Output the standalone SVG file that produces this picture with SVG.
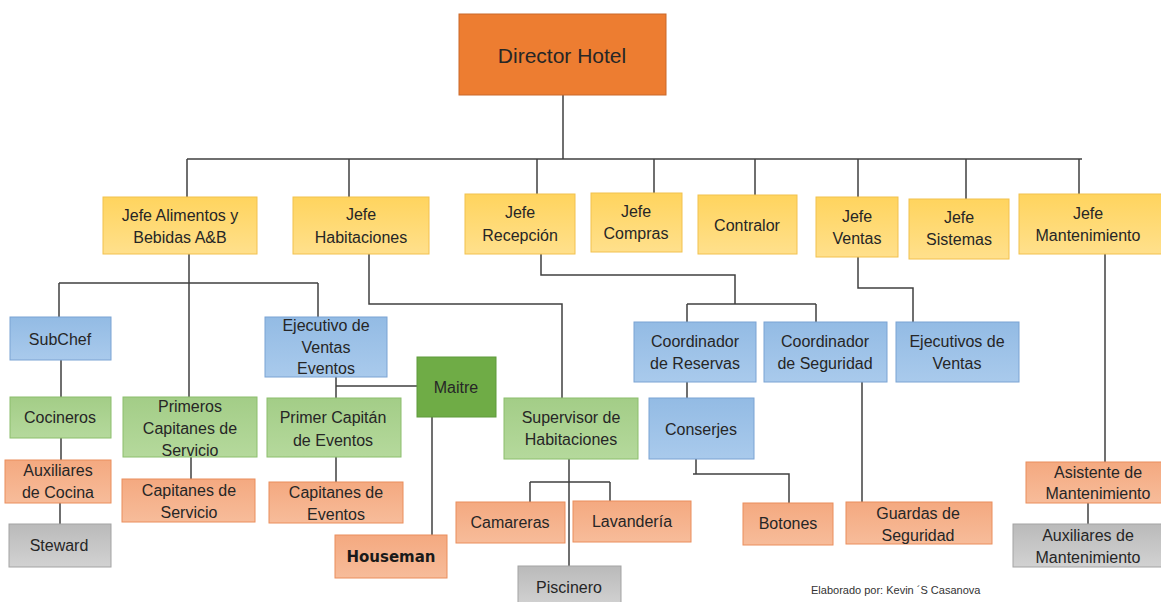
<svg xmlns="http://www.w3.org/2000/svg" width="1161" height="602" viewBox="0 0 1161 602">
<defs>
<linearGradient id="gY" x1="0" y1="0" x2="0" y2="1"><stop offset="0" stop-color="#FFD45E"/><stop offset="1" stop-color="#FFE08C"/></linearGradient>
<linearGradient id="gB" x1="0" y1="0" x2="0" y2="1"><stop offset="0" stop-color="#93BBE4"/><stop offset="1" stop-color="#A9CAEC"/></linearGradient>
<linearGradient id="gG" x1="0" y1="0" x2="0" y2="1"><stop offset="0" stop-color="#A3CD87"/><stop offset="1" stop-color="#B5D99C"/></linearGradient>
<linearGradient id="gS" x1="0" y1="0" x2="0" y2="1"><stop offset="0" stop-color="#F4A980"/><stop offset="1" stop-color="#F7BC9A"/></linearGradient>
<linearGradient id="gR" x1="0" y1="0" x2="0" y2="1"><stop offset="0" stop-color="#BABABA"/><stop offset="1" stop-color="#D2D2D2"/></linearGradient>
<style>
.t{font-family:"Liberation Sans",Arial,sans-serif;font-size:16px;fill:#262626;text-anchor:middle;dominant-baseline:central}
.y{fill:url(#gY);stroke:#F2C14E;stroke-width:1}
.b{fill:url(#gB);stroke:#7BA3D3;stroke-width:1}
.g{fill:url(#gG);stroke:#8CBE6C;stroke-width:1}
.s{fill:url(#gS);stroke:#EA8E5C;stroke-width:1}
.r{fill:url(#gR);stroke:#A3A3A3;stroke-width:1}
.c{fill:none;stroke:#404040;stroke-width:1.5}
</style>
</defs>
<rect width="1161" height="602" fill="#FFFFFF"/>
<g id="connectors" class="c">
<path d="M563,95 V159 M187,159 H1082 M187,159 V197 M349,159 V197 M537,159 V194 M654,159 V193 M755,159 V195 M858,159 V197 M966,159 V199 M1079,159 V194"/>
<path d="M189,254 V397 M59,283 H318 M59,283 V317 M318,283 V317"/>
<path d="M369,254 V304 H562 V398"/>
<path d="M541,254 V275 H735 V304 M687,304 H816 M687,304 V322 M816,304 V322"/>
<path d="M858,257 V288 H913 V322"/>
<path d="M1105,254 V462"/>
<path d="M61,360 V397 M61,438 V460 M60,503 V524"/>
<path d="M191,457 V479"/>
<path d="M336,377 V398 M336,386 H417 M336,457 V482"/>
<path d="M432,417 V535"/>
<path d="M569,459 V566 M530,482 H610 M530,482 V502 M610,482 V501"/>
<path d="M687,382 V398 M696,459 V474 M693,474 H789 V503"/>
<path d="M862,382 V502"/>
<path d="M1088,503 V524"/>
</g>
<g id="director"><rect x="459" y="14" width="207" height="81" fill="#ED7D31" stroke="#C9692A"/><text class="t" x="562" y="55" style="font-size:21px">Director Hotel</text></g>
<g id="jefe-ab"><rect class="y" x="103" y="197" width="154" height="57"/><text class="t" x="180" y="215">Jefe Alimentos y</text><text class="t" x="180" y="237">Bebidas A&amp;B</text></g>
<g id="jefe-hab"><rect class="y" x="293" y="197" width="136" height="57"/><text class="t" x="361" y="214">Jefe</text><text class="t" x="361" y="237">Habitaciones</text></g>
<g id="jefe-rec"><rect class="y" x="465" y="194" width="110" height="60"/><text class="t" x="520" y="212">Jefe</text><text class="t" x="520" y="235">Recepción</text></g>
<g id="jefe-com"><rect class="y" x="591" y="193" width="91" height="59"/><text class="t" x="636" y="211">Jefe</text><text class="t" x="636" y="233">Compras</text></g>
<g id="contralor"><rect class="y" x="698" y="195" width="99" height="59"/><text class="t" x="747" y="225">Contralor</text></g>
<g id="jefe-ven"><rect class="y" x="816" y="197" width="82" height="60"/><text class="t" x="857" y="216">Jefe</text><text class="t" x="857" y="238">Ventas</text></g>
<g id="jefe-sis"><rect class="y" x="909" y="199" width="100" height="60"/><text class="t" x="959" y="217">Jefe</text><text class="t" x="959" y="239">Sistemas</text></g>
<g id="jefe-man"><rect class="y" x="1019" y="194" width="145" height="60"/><text class="t" x="1088" y="213">Jefe</text><text class="t" x="1088" y="235">Mantenimiento</text></g>
<g id="subchef"><rect class="b" x="10" y="317" width="101" height="43"/><text class="t" x="60" y="339">SubChef</text></g>
<g id="cocineros"><rect class="g" x="10" y="397" width="101" height="41"/><text class="t" x="60" y="417">Cocineros</text></g>
<g id="primeros"><rect class="g" x="123" y="397" width="134" height="60"/><text class="t" x="190" y="406">Primeros</text><text class="t" x="190" y="428">Capitanes de</text><text class="t" x="190" y="450">Servicio</text></g>
<g id="ejecutivo-eventos"><rect class="b" x="265" y="317" width="122" height="60"/><text class="t" x="326" y="325">Ejecutivo de</text><text class="t" x="326" y="347">Ventas</text><text class="t" x="326" y="368">Eventos</text></g>
<g id="primer-capitan"><rect class="g" x="267" y="398" width="134" height="59"/><text class="t" x="333" y="417">Primer Capitán</text><text class="t" x="333" y="440">de Eventos</text></g>
<g id="maitre"><rect x="417" y="357" width="79" height="60" fill="#6FAC46" stroke="#5E9A3A"/><text class="t" x="456" y="387">Maitre</text></g>
<g id="supervisor"><rect class="g" x="504" y="398" width="134" height="61"/><text class="t" x="571" y="417">Supervisor de</text><text class="t" x="571" y="439">Habitaciones</text></g>
<g id="coord-reservas"><rect class="b" x="634" y="322" width="122" height="60"/><text class="t" x="695" y="341">Coordinador</text><text class="t" x="695" y="363">de Reservas</text></g>
<g id="coord-seguridad"><rect class="b" x="764" y="322" width="123" height="60"/><text class="t" x="825" y="341">Coordinador</text><text class="t" x="825" y="363">de Seguridad</text></g>
<g id="ejecutivos-ventas"><rect class="b" x="896" y="322" width="123" height="60"/><text class="t" x="957" y="341">Ejecutivos de</text><text class="t" x="957" y="363">Ventas</text></g>
<g id="conserjes"><rect class="b" x="649" y="398" width="105" height="61"/><text class="t" x="701" y="429">Conserjes</text></g>
<g id="aux-cocina"><rect class="s" x="5" y="460" width="106" height="43"/><text class="t" x="58" y="470">Auxiliares</text><text class="t" x="58" y="492">de Cocina</text></g>
<g id="steward"><rect class="r" x="9" y="524" width="102" height="43"/><text class="t" x="59" y="545">Steward</text></g>
<g id="capitanes-servicio"><rect class="s" x="122" y="479" width="133" height="43"/><text class="t" x="189" y="490">Capitanes de</text><text class="t" x="189" y="512">Servicio</text></g>
<g id="capitanes-eventos"><rect class="s" x="269" y="482" width="134" height="41"/><text class="t" x="336" y="492">Capitanes de</text><text class="t" x="336" y="514">Eventos</text></g>
<g id="houseman"><rect class="s" x="335" y="535" width="112" height="43"/><text class="t" x="391" y="557" style="font-family:'DejaVu Sans',sans-serif;font-size:15px;font-weight:bold;fill:#1a1a1a">Houseman</text></g>
<g id="camareras"><rect class="s" x="456" y="502" width="109" height="41"/><text class="t" x="510" y="522">Camareras</text></g>
<g id="lavanderia"><rect class="s" x="573" y="501" width="118" height="41"/><text class="t" x="632" y="521">Lavandería</text></g>
<g id="piscinero"><rect class="r" x="518" y="566" width="103" height="40"/><text class="t" x="569" y="587">Piscinero</text></g>
<g id="botones"><rect class="s" x="743" y="503" width="90" height="42"/><text class="t" x="788" y="523">Botones</text></g>
<g id="guardas"><rect class="s" x="846" y="502" width="146" height="42"/><text class="t" x="918" y="513">Guardas de</text><text class="t" x="918" y="535">Seguridad</text></g>
<g id="asistente-mant"><rect class="s" x="1026" y="462" width="138" height="41"/><text class="t" x="1098" y="472">Asistente de</text><text class="t" x="1098" y="493">Mantenimiento</text></g>
<g id="aux-mant"><rect class="r" x="1013" y="524" width="151" height="43"/><text class="t" x="1088" y="535">Auxiliares de</text><text class="t" x="1088" y="557">Mantenimiento</text></g>
<text x="811" y="594" style="font-family:'Liberation Sans',Arial,sans-serif;font-size:11px;fill:#333">Elaborado por: Kevin ´S Casanova</text>
</svg>
